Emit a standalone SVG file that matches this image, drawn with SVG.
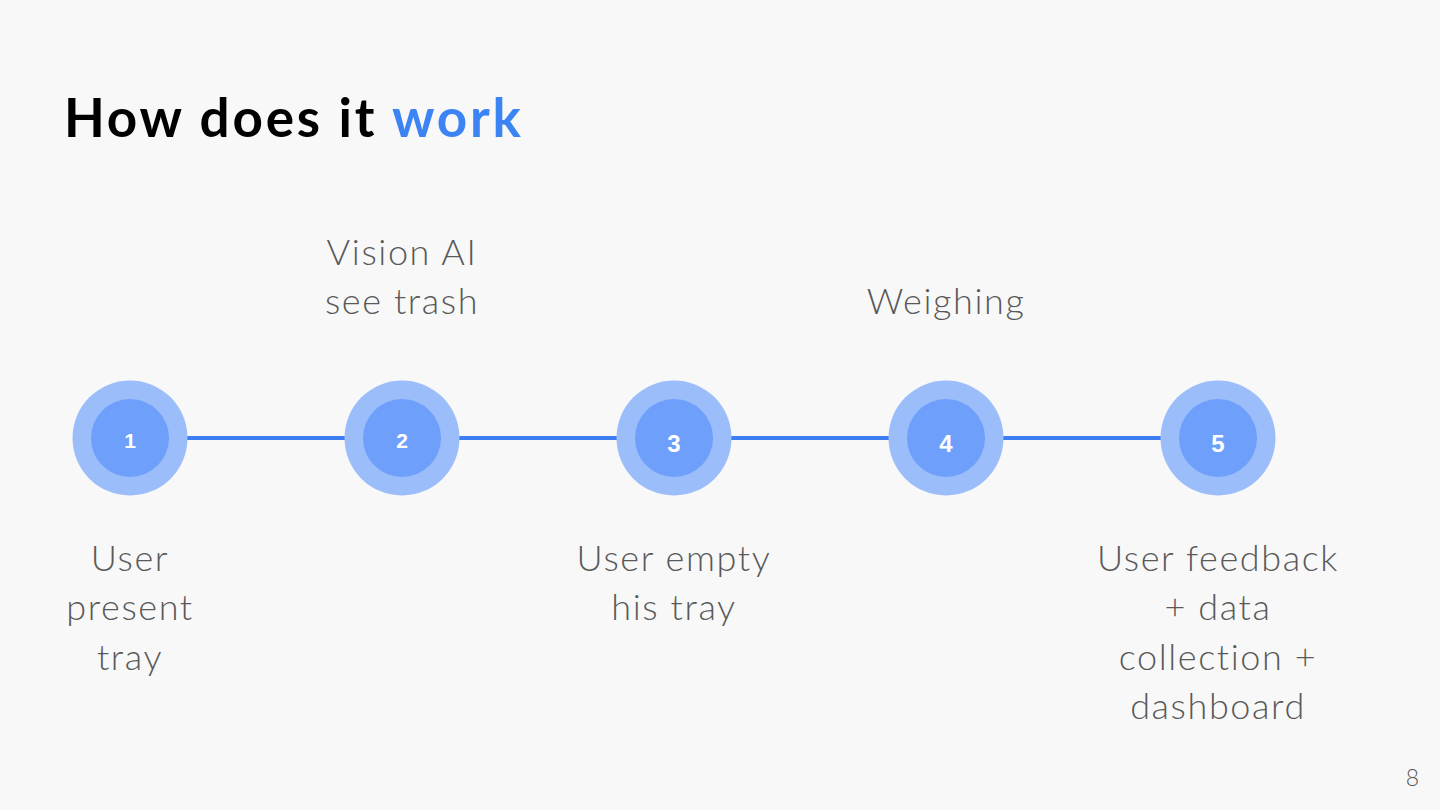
<svg xmlns="http://www.w3.org/2000/svg" width="1440" height="810" viewBox="0 0 1440 810">
<style>
.title{font-family:"Lato","Liberation Sans",sans-serif;font-weight:700;font-size:53px;letter-spacing:2.8px}
.lbl{font-family:"Lato","Liberation Sans",sans-serif;font-weight:300;font-size:36px;letter-spacing:1.6px;fill:#595959;text-anchor:middle}
.outer{fill:#9bbdfa}
.inner{fill:#6d9ffb}
.num{font-family:"Liberation Sans",sans-serif;font-weight:700;font-size:21px;fill:#ffffff;text-anchor:middle}
.num2{font-family:"Liberation Sans",sans-serif;font-weight:700;font-size:24px;fill:#ffffff;text-anchor:middle}
</style>
<rect width="1440" height="810" fill="#f8f8f8"/>
<text class="title" x="64" y="137"><tspan fill="#000000">How does it </tspan><tspan fill="#3c84f4">work</tspan></text>
<g id="connectors">
<line x1="130" y1="438" x2="1218" y2="438" stroke="#3c7ef1" stroke-width="4"/>
</g>
<g id="step1"><circle class="outer" cx="130" cy="438" r="57.5"/><circle class="inner" cx="130" cy="438" r="39"/><text class="num" x="130" y="448">1</text>
<text class="lbl" x="130" y="571">User</text><text class="lbl" x="130" y="620">present</text><text class="lbl" x="130" y="670">tray</text></g>
<g id="step2"><circle class="outer" cx="402" cy="438" r="57.5"/><circle class="inner" cx="402" cy="438" r="39"/><text class="num" x="402" y="448">2</text>
<text class="lbl" x="402" y="265">Vision AI</text><text class="lbl" x="402" y="314">see trash</text></g>
<g id="step3"><circle class="outer" cx="674" cy="438" r="57.5"/><circle class="inner" cx="674" cy="438" r="39"/><text class="num2" x="674" y="452">3</text>
<text class="lbl" x="674" y="571">User empty</text><text class="lbl" x="674" y="620">his tray</text></g>
<g id="step4"><circle class="outer" cx="946" cy="438" r="57.5"/><circle class="inner" cx="946" cy="438" r="39"/><text class="num2" x="946" y="452">4</text>
<text class="lbl" x="946" y="314">Weighing</text></g>
<g id="step5"><circle class="outer" cx="1218" cy="438" r="57.5"/><circle class="inner" cx="1218" cy="438" r="39"/><text class="num2" x="1218" y="452">5</text>
<text class="lbl" x="1218" y="571">User feedback</text><text class="lbl" x="1218" y="620">+ data</text><text class="lbl" x="1218" y="670">collection +</text><text class="lbl" x="1218" y="719">dashboard</text></g>
<text x="1419" y="786" font-family="Lato,'Liberation Sans',sans-serif" font-weight="300" font-size="23" fill="#595959" text-anchor="end">8</text>
</svg>
